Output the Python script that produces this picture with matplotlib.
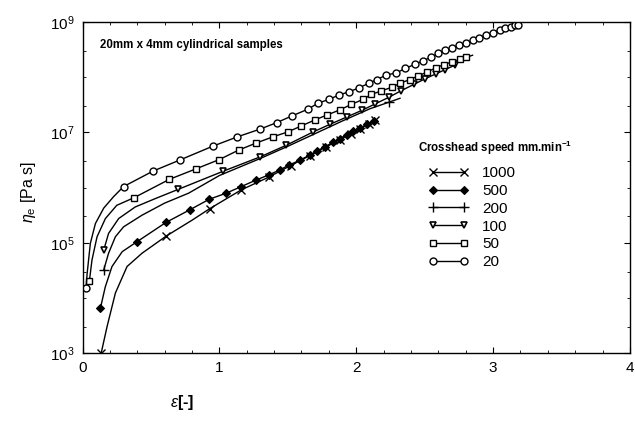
import matplotlib
matplotlib.use("Agg")
import matplotlib.pyplot as plt
import numpy as np
from matplotlib.lines import Line2D
from matplotlib.ticker import FixedLocator, FixedFormatter, MultipleLocator

plt.rcParams.update({
    "font.family": ["Liberation Sans", "DejaVu Sans"],
    "mathtext.fontset": "custom",
    "mathtext.rm": "Liberation Sans",
    "mathtext.it": "Liberation Sans:italic",
    "mathtext.bf": "Liberation Sans:bold",
})

# ---------------------------------------------------------------------------
# Data: strain (x) and log10 of elongational viscosity
# "marks" are the indices of points that carry a marker symbol
# ---------------------------------------------------------------------------
speeds = ["1000", "500", "200", "100", "50", "20"]

x_1000 = [0.137, 0.179, 0.24, 0.325, 0.434, 0.61, 0.80, 0.93, 1.16, 1.36,
          1.52, 1.66, 1.78, 1.88, 1.96, 2.03, 2.09, 2.14]
y_1000 = [3.01, 3.48, 4.09, 4.57, 4.81, 5.12, 5.41, 5.62, 5.96, 6.19,
          6.40, 6.58, 6.74, 6.87, 6.98, 7.07, 7.15, 7.22]
m_1000 = [0, 5, 7, 8, 9, 10, 11, 12, 13, 14, 15, 16, 17]

x_500 = [0.13, 0.166, 0.215, 0.29, 0.398, 0.61, 0.785, 0.926, 1.05, 1.16,
         1.27, 1.36, 1.44, 1.51, 1.59, 1.66, 1.71, 1.77, 1.83, 1.88, 1.93,
         1.98, 2.03, 2.08, 2.13]
y_500 = [3.81, 4.20, 4.57, 4.84, 5.02, 5.37, 5.60, 5.79, 5.90, 6.02,
         6.14, 6.23, 6.32, 6.41, 6.50, 6.59, 6.66, 6.74, 6.82, 6.89, 6.96,
         7.02, 7.08, 7.15, 7.21]
m_500 = [0] + list(range(4, 25))

x_200 = [0.155, 0.19, 0.24, 0.30, 0.434, 0.60, 0.775, 1.0, 1.3, 1.5, 1.7,
         1.9, 2.1, 2.24, 2.32]
y_200 = [4.51, 4.81, 5.11, 5.29, 5.50, 5.72, 5.90, 6.22, 6.53, 6.75, 6.98,
         7.21, 7.43, 7.55, 7.62]
m_200 = [0, 13]

x_100 = [0.155, 0.19, 0.264, 0.385, 0.53, 0.70, 1.03, 1.30, 1.49, 1.685,
         1.81, 1.93, 2.04, 2.14, 2.24, 2.33, 2.42, 2.50, 2.58, 2.65, 2.72]
y_100 = [4.87, 5.17, 5.44, 5.65, 5.80, 5.97, 6.30, 6.56, 6.77, 7.01,
         7.15, 7.28, 7.40, 7.52, 7.64, 7.76, 7.87, 7.97, 8.06, 8.14, 8.22]
m_100 = [0] + list(range(5, 21))

x_50 = [0.05, 0.069, 0.106, 0.167, 0.25, 0.378, 0.634, 0.828, 1.0, 1.14,
        1.27, 1.39, 1.50, 1.60, 1.70, 1.79, 1.88, 1.965, 2.05, 2.11, 2.18,
        2.26, 2.32, 2.39, 2.45, 2.52, 2.58, 2.64, 2.70, 2.76, 2.80, 2.85]
y_50 = [4.31, 4.69, 5.11, 5.44, 5.68, 5.82, 6.15, 6.34, 6.51, 6.68,
        6.81, 6.92, 7.01, 7.12, 7.23, 7.32, 7.41, 7.51, 7.60, 7.69, 7.75,
        7.82, 7.89, 7.96, 8.02, 8.10, 8.17, 8.23, 8.28, 8.33, 8.36, 8.40]
m_50 = [0] + list(range(5, 31))

x_20 = [0.026, 0.033, 0.057, 0.094, 0.155, 0.228, 0.30, 0.515, 0.71, 0.95,
        1.13, 1.296, 1.42, 1.53, 1.645, 1.72, 1.80, 1.875, 1.95, 2.02, 2.09,
        2.15, 2.22, 2.29, 2.36, 2.43, 2.49, 2.55, 2.60, 2.65, 2.70, 2.75,
        2.80, 2.85, 2.90, 2.95, 3.00, 3.05, 3.09, 3.13, 3.16, 3.18]
y_20 = [4.18, 4.43, 4.99, 5.35, 5.63, 5.84, 6.02, 6.30, 6.50, 6.75,
        6.92, 7.06, 7.18, 7.30, 7.42, 7.53, 7.60, 7.68, 7.74, 7.81, 7.89,
        7.96, 8.04, 8.08, 8.16, 8.24, 8.30, 8.37, 8.44, 8.49, 8.54, 8.58,
        8.62, 8.67, 8.72, 8.77, 8.81, 8.86, 8.89, 8.92, 8.94, 8.95]
m_20 = [0] + list(range(6, 42))

series_x = [x_1000, x_500, x_200, x_100, x_50, x_20]
series_y = [y_1000, y_500, y_200, y_100, y_50, y_20]
series_m = [m_1000, m_500, m_200, m_100, m_50, m_20]

xticks = [0, 1, 2, 3, 4]
yticks = [1e3, 1e5, 1e7, 1e9]
ytick_labels = [r"10$^{3}$", r"10$^{5}$", r"10$^{7}$", r"10$^{9}$"]

# marker styles per series (same order as speeds)
styles = [
    dict(marker="x", ms=5.5, mfc="black", mew=1.0),
    dict(marker="D", ms=4, mfc="black", mew=0.8),
    dict(marker="+", ms=7, mfc="black", mew=1.0),
    dict(marker="v", ms=5, mfc="white", mew=1.2),
    dict(marker="s", ms=5, mfc="white", mew=1.0),
    dict(marker="o", ms=5, mfc="white", mew=1.0),
]

fig = plt.figure(figsize=(6.35, 4.26), dpi=100)
ax = fig.add_axes([0.130, 0.171, 0.862, 0.777])

for xs, ys, marks, st in zip(series_x, series_y, series_m, styles):
    ax.plot(xs, 10 ** np.array(ys), color="black", lw=1.0, mec="black",
            markevery=marks, **st)

ax.set_yscale("log")
ax.set_xlim(0, 4)
ax.set_ylim(1e3, 1e9)
ax.xaxis.set_major_locator(FixedLocator(xticks))
ax.xaxis.set_minor_locator(MultipleLocator(0.2))
ax.yaxis.set_major_locator(FixedLocator(yticks))
ax.yaxis.set_major_formatter(FixedFormatter(ytick_labels))
ax.yaxis.set_minor_locator(matplotlib.ticker.LogLocator(base=10, subs=(1.0, 3.0), numticks=20))
ax.yaxis.set_minor_formatter(matplotlib.ticker.NullFormatter())
ax.tick_params(which="both", direction="in", top=True, right=True,
               labelsize=11, pad=6)
ax.tick_params(which="major", length=4)
ax.tick_params(which="minor", length=2)
for s in ax.spines.values():
    s.set_linewidth(1.0)

ax.text(0.032, 0.93, "20mm x 4mm cylindrical samples", transform=ax.transAxes,
        fontsize=8.3, fontweight="bold", va="center", ha="left")

fig.text(0.045, 0.55, r"$\eta_{\mathrm{e}}$ [Pa s]", rotation=90,
         fontsize=11.5, ha="center", va="center")
fig.text(0.287, 0.055, r"$\varepsilon$[-]", fontsize=11.5,
         fontweight="bold", ha="center", va="center")

fig.text(0.658, 0.652, r"Crosshead speed mm.min$^{\mathbf{-1}}$",
         fontsize=8.3, fontweight="bold", ha="left", va="center")

handles = [Line2D([0], [0], color="black", lw=1.0, mec="black", **st)
           for st in styles]
ax.legend(handles, speeds, loc="upper left", bbox_to_anchor=(0.675, 0.610),
          bbox_transform=fig.transFigure, frameon=False, fontsize=11,
          numpoints=2, handlelength=2.6, handletextpad=0.9,
          labelspacing=0.25, borderpad=0.0, borderaxespad=0.0)

fig.savefig("out.png", dpi=100)
